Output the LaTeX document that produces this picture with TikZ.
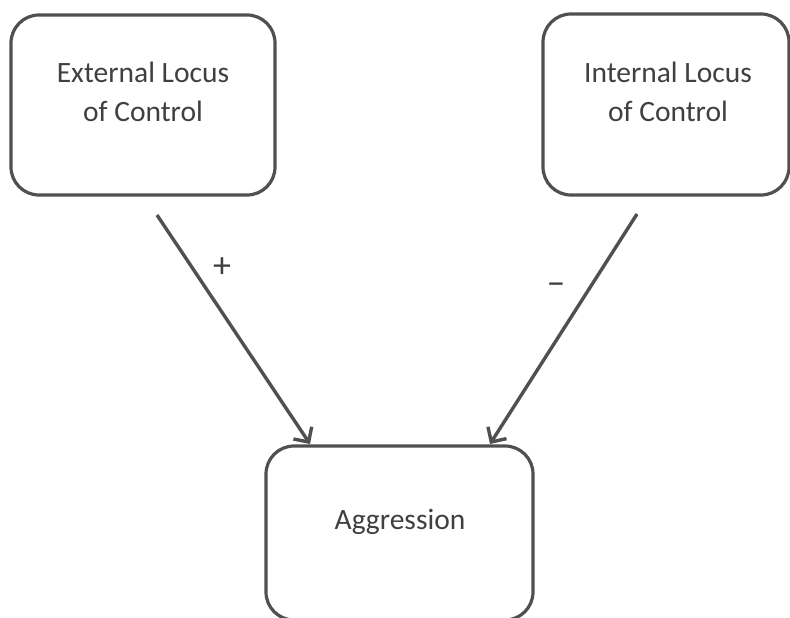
\documentclass[tikz,border=0pt]{standalone}
\usepackage{fontspec}
\setmainfont{Carlito}
\usetikzlibrary{arrows.meta}
\definecolor{boxgray}{HTML}{505050}
\definecolor{txtgray}{HTML}{404040}
\begin{document}
\begin{tikzpicture}[x=1pt,y=-1pt,
    lbox/.style={draw=boxgray,line width=3.2pt,rectangle,rounded corners=28pt,fill=white},
    ltext/.style={align=center,text=txtgray,font=\fontsize{29.5}{39}\selectfont},
    sign/.style={text=txtgray,font=\fontsize{36}{40}\selectfont},
    link/.style={draw=boxgray,line width=3.4pt,-{Straight Barb[length=11pt,width=22pt]}}]
  \useasboundingbox (0,0) rectangle (790,618);

  % the two causes
  \node[lbox,minimum width=264pt,minimum height=180pt] (ext) at (143,105) {};
  \node[ltext] (extlbl) at (143,92) {External Locus\\of Control};

  \node[lbox,minimum width=246pt,minimum height=181pt] (int) at (666,104.5) {};
  \node[ltext] (intlbl) at (668,92) {Internal Locus\\of Control};

  % the outcome
  \node[lbox,minimum width=267pt,minimum height=174pt] (aggr) at (399.5,533) {};
  \node[ltext] (aggrlbl) at (400,522) {Aggression};

  % links
  \coordinate (plustail) at (157,215);
  \coordinate (plushead) at (310,444);
  \coordinate (minustail) at (637,214);
  \coordinate (minushead) at (490,444);

  \draw[link] (plustail) -- (plushead);
  \draw[link] (minustail) -- (minushead);

  \node[sign] (plus) at (222,268) {+};
  \node[sign] (minus) at (556,289) {−};
\end{tikzpicture}
\end{document}
